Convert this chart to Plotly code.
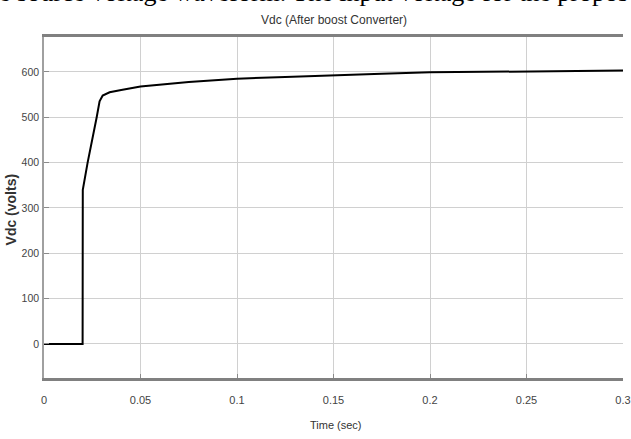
import plotly.graph_objects as go

# DC-link voltage after the boost converter
time_s = [0.0, 0.02, 0.0201, 0.0226, 0.0273, 0.0288, 0.0304, 0.034, 0.04, 0.05,
          0.075, 0.1, 0.125, 0.15, 0.175, 0.2, 0.225, 0.244, 0.25, 0.3]
vdc_volts = [0, 0, 340, 400, 500, 535, 548, 555, 560, 568,
             578, 585, 589, 593, 596, 599, 600, 601, 602, 603]

x_ticks = [0, 0.05, 0.1, 0.15, 0.2, 0.25, 0.3]
x_tick_text = ["0", "0.05", "0.1", "0.15", "0.2", "0.25", "0.3"]
y_ticks = [0, 100, 200, 300, 400, 500, 600]

W, H = 631, 439
L, R, T, B = 44, 0, 37, 61
plot_w = W - L - R
plot_h = H - T - B

sans = "Liberation Sans, Arial, sans-serif"
tick_col = "#444444"


def px_x(xp):
    return (xp - L) / plot_w


def px_y(yp):
    return (H - B - yp) / plot_h


fig = go.Figure()
fig.add_trace(go.Scatter(
    x=time_s, y=vdc_volts, mode="lines",
    line=dict(color="black", width=2),
    hoverinfo="skip", showlegend=False,
))

fig.update_layout(
    width=W, height=H,
    margin=dict(l=L, r=R, t=T, b=B, pad=0),
    paper_bgcolor="white", plot_bgcolor="white",
    font=dict(family=sans, size=12, color="#333333"),
    xaxis=dict(
        range=[0, 0.3], tickvals=x_ticks, ticktext=x_tick_text,
        color=tick_col,
        showgrid=True, gridcolor="#d0d0d0", gridwidth=1, zeroline=False,
        showline=True, linecolor="#808080", linewidth=2.5, mirror=True,
        ticks="inside", ticklen=4, tickcolor="#8a8a8a",
        ticklabeloverflow="allow", ticklabelstandoff=10,
        tickfont=dict(family=sans, size=11, color=tick_col),
    ),
    yaxis=dict(
        range=[-75, 677], tickvals=y_ticks,
        color=tick_col,
        showgrid=True, gridcolor="#d0d0d0", gridwidth=1, zeroline=False,
        showline=True, linecolor="#a0a0a0", linewidth=1.5,
        ticks="inside", ticklen=5, tickcolor="#8a8a8a",
        ticklabelstandoff=1,
        tickfont=dict(family=sans, size=10.5, color=tick_col),
    ),
    annotations=[
        dict(text="Vdc (After boost Converter)", xref="paper", yref="paper",
             x=px_x(338), y=px_y(20), xanchor="center", yanchor="middle",
             showarrow=False, font=dict(family=sans, size=12, color="#333333")),
        dict(text="Time (sec)", xref="paper", yref="paper",
             x=px_x(340), y=px_y(425), xanchor="center", yanchor="middle",
             showarrow=False, font=dict(family=sans, size=11, color="#333333")),
        dict(text="<b>Vdc (volts)</b>", xref="paper", yref="paper",
             x=px_x(11), y=px_y(209), xanchor="center", yanchor="middle",
             textangle=-90, showarrow=False,
             font=dict(family=sans, size=14, color="#333333")),
        dict(text="e source voltage waveform. The input voltage for the propos",
             xref="paper", yref="paper", x=px_x(-4), y=px_y(9),
             xanchor="left", yanchor="bottom", showarrow=False,
             font=dict(family="Liberation Serif, Times New Roman, serif", size=26, color="black")),
    ],
)

fig.write_html("out.html")
